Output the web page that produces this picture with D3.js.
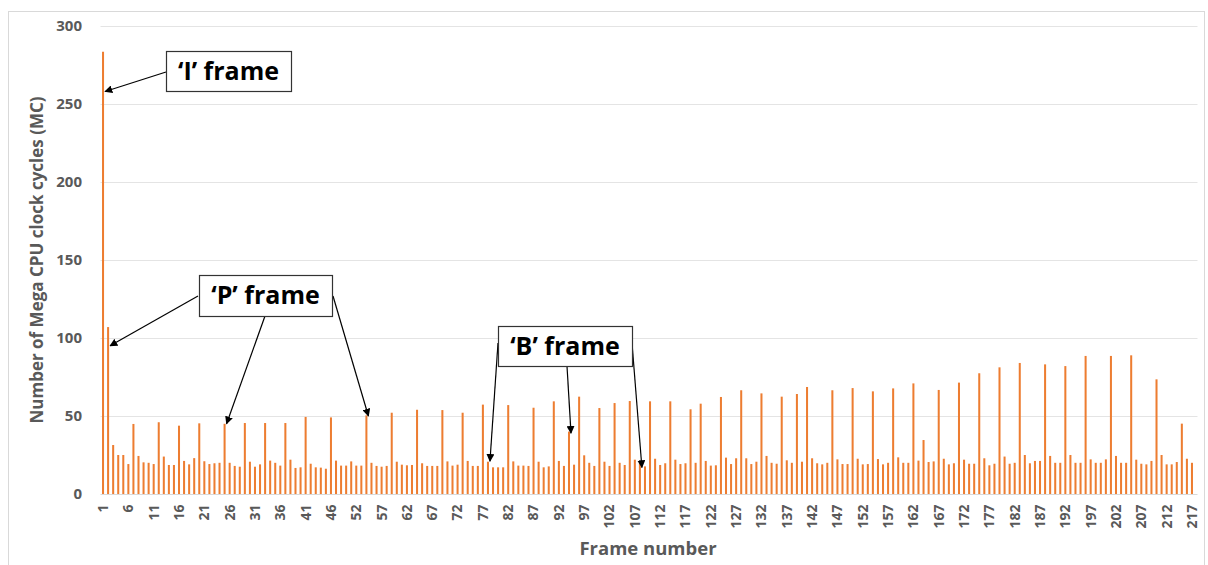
<!DOCTYPE html>
<html>
<head>
<meta charset="utf-8">
<script src="https://cdn.jsdelivr.net/npm/d3@7/dist/d3.min.js"></script>
<style>
  body { margin: 0; background: #fff; }
  svg { display: block; font-family: "Open Sans", "Liberation Sans", sans-serif; }
</style>
</head>
<body>
<svg id="chart" width="1208" height="565"></svg>
<script>
(function () {
// ---- Data ----
const frames = [...d3.range(1, 51), ...d3.range(52, 218)].map(String);
const cycles = [
  283.5, 107, 31.4, 25, 25, 19.2, 44.9, 24.4, 20.3, 20,
  19.2, 46, 24, 18.6, 18.6, 43.8, 21.2, 19, 23, 45.3,
  21, 19.2, 19.7, 20, 45, 20, 18, 17.5, 45.5, 20.7,
  17.5, 19, 45.5, 21.4, 20, 18.2, 45.5, 22, 16.7, 17.1,
  49.4, 19.4, 17.1, 16.9, 16.2, 49.1, 21.4, 18.2, 18.2, 20.9,
  18.2, 18.2, 50.4, 20, 18, 17.5, 18, 52.1, 20.7, 18.8,
  18.4, 18.6, 54, 19.7, 18, 18, 18, 53.8, 20.9, 18.2,
  18.8, 52.1, 21.2, 18, 18, 57.3, 20.7, 17.1, 17.1, 17.1,
  57, 20.9, 18.2, 18.2, 18, 55.3, 20.7, 17.1, 17.7, 59.4,
  21.2, 18, 40, 18.8, 62.4, 24.8, 20, 18, 55.1, 20.7,
  18, 58.3, 20, 18.6, 59.6, 22, 20, 17.7, 59.4, 22.6,
  18.6, 19.7, 59.4, 22, 19.2, 19.7, 54.3, 20, 57.9, 21.2,
  18.2, 18.4, 62.2, 23.3, 19.2, 22.9, 66.5, 22.9, 19.2, 20.7,
  64.5, 24.4, 20, 19.4, 62.4, 21.6, 20, 64.1, 20.7, 68.6,
  22.9, 19.7, 19, 20, 66.5, 22.2, 19.2, 19.2, 67.9, 22.6,
  19, 19.2, 65.8, 22.4, 19, 20, 67.7, 23.5, 20, 20,
  70.9, 21.4, 34.6, 20.5, 20.9, 66.7, 22.6, 19, 19.7, 71.4,
  22, 19.4, 19.4, 77.4, 22.9, 18.4, 19.4, 81.2, 24, 19.4,
  20, 84, 25, 19.7, 21.2, 21.2, 83.1, 24.4, 20, 20,
  82, 25, 20, 20, 88.5, 22.2, 20, 20, 22.2, 88.5,
  24.4, 20, 20, 88.9, 22, 19.4, 19, 21.2, 73.5, 25,
  19, 19, 20.5, 45.1, 22.6, 20
];
const yTicks = [0, 50, 100, 150, 200, 250, 300];
const xTickLabels = frames.filter((d, i) => i % 5 === 0);

// Annotations: label, box, arrows pointing at frame positions (index) and value
const annotations = [
  { label: "\u2018I\u2019 frame", box: [166, 51, 125, 40], arrows: [{ from: [166, 72], idx: 0, val: 258 }] },
  { label: "\u2018P\u2019 frame", box: [199, 275, 133, 41], arrows: [
      { from: [198, 296], idx: 1, val: 95 },
      { from: [265, 316], idx: 24, val: 45 },
      { from: [333, 296], idx: 52, val: 50 } ] },
  { label: "\u2018B\u2019 frame", box: [498, 326, 134, 40], arrows: [
      { from: [498, 343], idx: 76, val: 21 },
      { from: [567, 366], idx: 92, val: 39 },
      { from: [632, 343], idx: 106, val: 17 } ] }
];

// ---- Layout ----
const svg = d3.select("#chart");
const mLeft = 100.5, mRight = 1194.5, mTop = 26, mBottom = 494;
const gray = "#595959";

svg.append("rect").attr("x", 8.5).attr("y", 11.5).attr("width", 1196).attr("height", 560)
  .attr("fill", "#fff").attr("stroke", "#d9d9d9");

const x = d3.scaleBand().domain(frames).range([mLeft, mRight]).paddingInner(0.6).paddingOuter(0.3);
const y = d3.scaleLinear().domain([0, 300]).range([mBottom, mTop]);

// gridlines
svg.append("g").selectAll("line").data(yTicks.slice(1)).join("line")
  .attr("x1", mLeft).attr("x2", mRight + 3)
  .attr("y1", d => Math.round(y(d)) + 0.5).attr("y2", d => Math.round(y(d)) + 0.5)
  .attr("stroke", "#e4e4e4").attr("stroke-width", 1);

// y axis labels
const yAxis = d3.axisLeft(y).tickValues(yTicks).tickSize(0).tickPadding(0);
const gy = svg.append("g").attr("transform", `translate(82,0)`).call(yAxis);
gy.select(".domain").remove();
gy.selectAll("text").attr("fill", gray).attr("font-size", 15).attr("font-weight", "bold")
  .attr("font-family", "'Open Sans', sans-serif");

// bars
svg.append("g").selectAll("rect").data(frames).join("rect")
  .attr("x", d => x(d))
  .attr("width", x.bandwidth())
  .attr("y", (d, i) => y(cycles[i]))
  .attr("height", (d, i) => y(0) - y(cycles[i]))
  .attr("fill", "#ED7D31");

// x axis
const xAxis = d3.axisBottom(x).tickValues(xTickLabels).tickSize(0).tickPadding(0);
const gx = svg.append("g").attr("transform", `translate(0,${mBottom + 0.5})`).call(xAxis);
gx.select(".domain").attr("stroke", "#d9d9d9").attr("d", `M${mLeft},0H${mRight + 3}`);
gx.selectAll("text")
  .attr("fill", gray).attr("font-size", 14).attr("font-weight", "bold")
  .attr("font-family", "'Open Sans', sans-serif")
  .attr("text-anchor", "end").attr("dy", "0.35em")
  .attr("transform", "translate(0,10) rotate(-90)")
  .attr("x", 0).attr("y", 0);

// axis titles
svg.append("text").attr("x", 648).attr("y", 555).attr("text-anchor", "middle")
  .attr("fill", gray).attr("font-size", 18.5).attr("font-weight", "bold").text("Frame number");
svg.append("text").attr("transform", "translate(43,260) rotate(-90)").attr("text-anchor", "middle")
  .attr("fill", gray).attr("font-size", 17).attr("font-weight", "bold")
  .text("Number of Mega CPU clock cycles (MC)");

// arrow marker
svg.append("defs").append("marker").attr("id", "arr")
  .attr("viewBox", "0 0 10 10").attr("refX", 9).attr("refY", 5)
  .attr("markerWidth", 8).attr("markerHeight", 8).attr("markerUnits", "userSpaceOnUse")
  .attr("orient", "auto")
  .append("path").attr("d", "M0,0L10,5L0,10z").attr("fill", "#000");

const ann = svg.append("g");
annotations.forEach(a => {
  a.arrows.forEach(ar => {
    const tx = x(frames[ar.idx]) + x.bandwidth() / 2 + 2;
    ann.append("line").attr("x1", ar.from[0]).attr("y1", ar.from[1])
      .attr("x2", tx).attr("y2", y(ar.val))
      .attr("stroke", "#000").attr("stroke-width", 1.2).attr("marker-end", "url(#arr)");
  });
  ann.append("rect").attr("x", a.box[0] + 0.5).attr("y", a.box[1] + 0.5)
    .attr("width", a.box[2]).attr("height", a.box[3])
    .attr("fill", "#fff").attr("stroke", "#333").attr("stroke-width", 1.2);
  ann.append("text").attr("x", a.box[0] + a.box[2] / 2).attr("y", a.box[1] + a.box[3] / 2)
    .attr("dy", "0.35em").attr("text-anchor", "middle")
    .attr("font-size", 25).attr("font-weight", "bold").attr("fill", "#000").text(a.label);
});
})();
</script>
</body>
</html>
